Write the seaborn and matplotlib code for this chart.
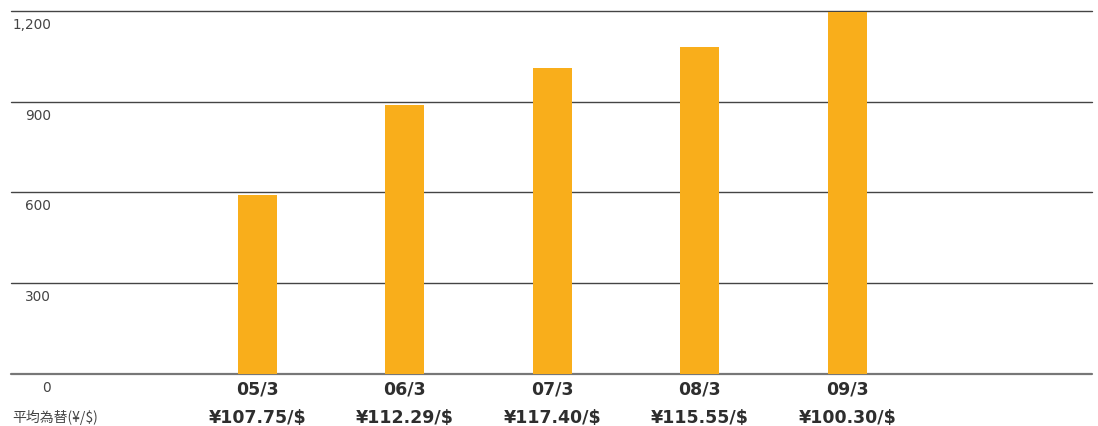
import matplotlib
matplotlib.use('Agg')
import matplotlib.pyplot as plt
import seaborn as sns
import pandas as pd

# ---- data ----
categories = ["05/3", "06/3", "07/3", "08/3", "09/3"]
values = [591, 889, 1011, 1081, 1198]
rates = ["¥107.75/$", "¥112.29/$", "¥117.40/$", "¥115.55/$", "¥100.30/$"]
yticks = [0, 300, 600, 900, 1200]
ytick_labels = ["0", "300", "600", "900", "1,200"]
rate_title = "平均為替(¥/$)"

sns.set_theme(style='white')
plt.rcParams['font.family'] = ['DejaVu Sans', 'Noto Sans CJK JP']

W, H = 1098, 426
fig = plt.figure(figsize=(W / 100, H / 100), dpi=100)
left, right, top, bottom = 11, 1092, 11, 373.5
ax = fig.add_axes([left / W, 1 - bottom / H, (right - left) / W, (bottom - top) / H])

df = pd.DataFrame({'period': categories, 'value': values})
sns.barplot(data=df, x='period', y='value', color='#F9AE1B', saturation=1,
            width=0.264, ax=ax, zorder=3, linewidth=0)

ax.set_xlim(-1.67, 5.66)
ax.set_ylim(0, 1200)
for v in yticks:
    ax.axhline(v, color='#777777' if v == 0 else '#444444',
               lw=1.6 if v == 0 else 1.0, zorder=1, clip_on=False)

ax.set_xticks([])
ax.set_yticks([])
ax.set_xlabel('')
ax.set_ylabel('')
for s in ax.spines.values():
    s.set_visible(False)

for v, lab in zip(yticks, ytick_labels):
    ax.annotate(lab, xy=(0, v), xycoords=('axes fraction', 'data'),
                xytext=(40, -14), textcoords='offset pixels',
                ha='right', va='center', fontsize=9.8, color='#444444')

for i, (cat, r) in enumerate(zip(categories, rates)):
    ax.annotate(cat, xy=(i, 0), xycoords=('data', 'axes fraction'),
                xytext=(0, -15.5), textcoords='offset pixels',
                ha='center', va='center', fontsize=12.5, fontweight='bold',
                color='#2e2e2e', annotation_clip=False)
    ax.annotate(r, xy=(i, 0), xycoords=('data', 'axes fraction'),
                xytext=(0, -44.5), textcoords='offset pixels',
                ha='center', va='center', fontsize=12.5, fontweight='bold',
                color='#2e2e2e', annotation_clip=False)

fig.text(12 / W, 1 - 417 / H, rate_title, ha='left', va='center',
         fontsize=10, color='#444444',
         family=['Noto Sans CJK JP', 'DejaVu Sans'])

fig.savefig('out.png', dpi=100)
